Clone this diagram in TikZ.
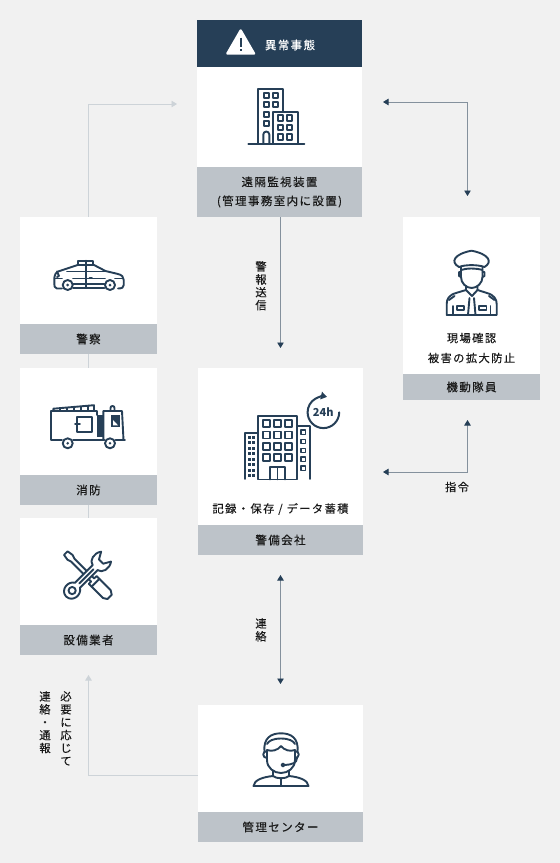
\documentclass[tikz,border=0pt]{standalone}
\usepackage{fontspec}
\usetikzlibrary{arrows.meta}
\newfontfamily\jpfont[LetterSpace=12,FakeBold=0.08]{Noto Sans CJK JP}
\newfontfamily\jpmid[LetterSpace=12,FakeBold=0.35]{Noto Sans CJK JP}
\newfontfamily\jpplain{Noto Sans CJK JP}
\definecolor{navy}{HTML}{263F57}
\definecolor{bandgray}{HTML}{BDC3C9}
\definecolor{pagegray}{HTML}{F1F1F1}
\definecolor{linegray}{HTML}{84919D}
\definecolor{palegray}{HTML}{CDD3D8}
\tikzset{
	bodybox/.style={fill=white,inner sep=0pt,minimum width=#1},
	bandbox/.style={fill=bandgray,inner sep=0pt,minimum width=#1,text=black!90,align=center,font=\jpmid\fontsize{11.5}{19}\selectfont},
	caption/.style={inner sep=0pt,align=center,text=black!90,font=\jpfont\fontsize{11.3}{20}\selectfont},
	vtext/.style={inner sep=0pt,anchor=north,align=center,text=black!90,font=\jpfont\fontsize{11.3}{12.9}\selectfont},
	icon/.style={draw=navy,line width=1.9pt,line join=round,line cap=round},
	darkline/.style={draw=linegray,line width=0.8pt},
	paleline/.style={draw=palegray,line width=0.8pt},
	darktip/.tip={Triangle[length=5.5pt,width=6.5pt,color=navy]},
	paletip/.tip={Triangle[length=5.5pt,width=6.5pt,color=palegray]}
}
\begin{document}
\begin{tikzpicture}[x=1pt,y=-1pt]
	\fill [pagegray] (0,0) rectangle (560,863);
	\useasboundingbox (0,0) rectangle (560,863);
	% boxes
	\node (alarm) at (279.5,43.5) [fill=navy,inner sep=0pt,minimum width=165pt,minimum height=47pt] {};
	\node (monitorbody) at (279.5,117) [bodybox=165pt,minimum height=100pt] {};
	\node (monitorband) at (279.5,192) [bandbox=165pt,minimum height=50pt] {遠隔監視装置\\(管理事務室内に設置)};
	\node (policebody) at (88.5,270.5) [bodybox=137pt,minimum height=107pt] {};
	\node (policeband) at (88.5,339) [bandbox=137pt,minimum height=30pt] {警察};
	\node (firebody) at (88.5,421.5) [bodybox=137pt,minimum height=107pt] {};
	\node (fireband) at (88.5,490) [bandbox=137pt,minimum height=30pt] {消防};
	\node (equipbody) at (88.5,571.5) [bodybox=137pt,minimum height=107pt] {};
	\node (equipband) at (88.5,640) [bandbox=137pt,minimum height=30pt] {設備業者};
	\node (centerbody) at (280.5,446.5) [bodybox=165pt,minimum height=157pt] {};
	\node (centerband) at (280.5,540) [bandbox=165pt,minimum height=30pt] {警備会社};
	\node (guardbody) at (471.5,295.5) [bodybox=137pt,minimum height=157pt] {};
	\node (guardband) at (471.5,387) [bandbox=137pt,minimum height=26pt] {機動隊員};
	\node (mgmtbody) at (280.5,758.5) [bodybox=165pt,minimum height=107pt] {};
	\node (mgmtband) at (280.5,827) [bandbox=165pt,minimum height=30pt] {管理センター};
	% free ends
	\coordinate (monitorL) at (177,104);
	\coordinate (monitorR) at (383,102);
	\coordinate (guardU) at (467.5,196);
	\coordinate (guardD) at (467.5,420);
	\coordinate (centerR) at (383,472);
	\coordinate (centerS) at (280.5,575);
	\coordinate (mgmtN) at (280.5,684);
	\coordinate (monitorS) at (280.5,217);
	\coordinate (centerN) at (280.5,348);
	\coordinate (mgmtL) at (198,775);
	\coordinate (equipD) at (88.5,675);
	% connectors
	\draw [paleline,-{paletip}] (policebody.north) |- (monitorL);
	\draw [paleline] (firebody.north) -- (policeband.south);
	\draw [paleline] (equipbody.north) -- (fireband.south);
	\draw [paleline,-{paletip}] (mgmtL) -| (equipD);
	\draw [darkline,{darktip}-{darktip}] (monitorR) -| (guardU);
	\draw [darkline,-{darktip}] (monitorS) -- (centerN);
	\draw [darkline,{darktip}-{darktip}] (centerR) -| (guardD);
	\draw [darkline,{darktip}-{darktip}] (centerS) -- (mgmtN);
	% labels
	\node (alarmtext) at (290,45) [inner sep=0pt,text=white,font=\jpmid\fontsize{11.5}{13}\selectfont] {異常事態};
	\node (recordtext) at (280.5,509) [caption] {記録・保存 / データ蓄積};
	\node (guardtext) at (471.5,348) [caption] {現場確認\\被害の拡大防止};
	\node (sendtext) at (261,261) [vtext] {警\\報\\送\\信};
	\node (contacttext) at (261,618) [vtext] {連\\絡};
	\node (ordertext) at (457,487) [caption] {指令};
	\node (needtext) at (66,691) [vtext] {必\\要\\に\\応\\じ\\て};
	\node (reporttext) at (45,691) [vtext] {連\\絡\\・\\通\\報};
	% warning sign
	\fill [white,draw=white,line width=2.4pt,line join=round] (240.7,30.5) -- (254,53.5) -- (227.4,53.5) -- cycle;
	\draw [navy,line width=2pt] (240.7,37.5) -- (240.7,47) (240.7,49.3) -- (240.7,51.3);
	% tower on the monitor box
	\begin{scope}[icon]
		\draw (258.3,143.5) |- (282.8,88.7) -- (282.8,111.7);
		\draw (272.7,143.5) |- (297.7,111.7) -- (297.7,143.5);
		\draw (248.3,143.7) -- (304.3,143.7);
		\foreach \wy in {92.7,102.2,111.7,121.2} \draw (263.7,\wy) rectangle ++(5,5);
		\foreach \wy in {92.7,102.2} \draw (272.7,\wy) rectangle ++(5,5);
		\foreach \wx in {277.7,286.7} \foreach \wy in {115.3,124.7,134.3} \draw (\wx,\wy) rectangle ++(5.5,5.3);
		\draw (263.3,143.5) -- (263.3,134.5) arc[start angle=180,end angle=0,radius=3pt] -- (269.3,143.5);
	\end{scope}
	% police car
	\begin{scope}[icon]
		\draw (62,288.5) -- (57,288.5) .. controls (54.5,288) and (54.3,286) .. (54.3,284) -- (54.3,278) .. controls (55,274) and (56,272.5) .. (58,271.5) -- (77.5,265) -- (94,265) -- (105.5,271) -- (118,274) .. controls (122,275) and (123.7,277) .. (123.7,280) -- (123.7,285) .. controls (123.7,287.5) and (122,288.5) .. (118,288.5);
		\draw (73,288) -- (104.5,288) (73,284) -- (104.5,284);
		\draw (78,265) -- (78,260.7) -- (93,260.7) -- (93,265);
		\draw (86,260.7) -- (86,288);
		\draw (57,271.5) -- (59,276) -- (57,277);
		\draw (55,278.5) -- (62,278.5) (73,278.5) -- (105,278.5) (115,278.5) -- (123,278.5);
		\draw (67,271.5) -- (105,271.5);
		\draw (89.5,277.8) -- (92,277.8);
		\draw [fill=white] (67.7,285) circle (5pt) (110,285) circle (5pt);
		\fill [navy] (67.7,285) circle (1.5pt) (110,285) circle (1.5pt);
	\end{scope}
	% fire engine
	\begin{scope}[icon]
		\draw (62,440) -- (50.7,440) -- (50.7,411) -- (97.3,411) -- (97.3,415);
		\draw (53.3,410.5) -- (53.3,408.7) -- (94,405.2) -- (94,410.5);
		\foreach \lx/\ly in {60/408.5,67/408,74/407,81/406.5,88/406} \draw [line width=1.2pt] (\lx,\ly) -- (\lx,410.5);
		\draw (76.7,416.7) rectangle (91.7,432.3);
		\draw (75,424) -- (80,424);
		\fill [navy] (97.3,415) rectangle (103.3,436.7);
		\draw (103.3,440) -- (103.3,411) -- (122,411) -- (123.5,440);
		\draw (73,440) -- (104.5,440);
		\draw (115.5,440) -- (125,440);
		\fill [navy] (110.7,415) rectangle (120,427.3);
		\fill [white] (113,420) -- (118,425.3) -- (113,425.3) -- cycle;
		\draw (110.5,411) -- (110.5,408) arc[start angle=180,end angle=0,radius=2pt] -- (114.5,411);
		\draw [fill=white] (67.7,443.3) circle (5pt) (110,443.3) circle (5pt);
		\fill [navy] (67.7,443.3) circle (1.4pt) (110,443.3) circle (1.4pt);
	\end{scope}
	% screwdriver and wrench
	\begin{scope}[icon,shift={(87.7,575)},rotate=-45]
		\draw [fill=white] (-31,-2.5) -- (-25,-3.5) -- (-21,-2.2) -- (7,-2.2) -- (7,-5.5) -- (27,-5.5) -- (31,-3) -- (31,3) -- (27,5.5) -- (7,5.5) -- (7,2.2) -- (-21,2.2) -- (-25,3.5) -- (-31,2.5) -- cycle;
		\draw (11,-5.5) -- (11,5.5);
	\end{scope}
	\begin{scope}[icon,shift={(87.7,575)},rotate=45]
		\draw [fill=white] (-14.5,-3.5) -- (10.5,-3.5) .. controls (11,-9) and (20,-11.5) .. (26,-7) -- (19,-3) -- (19,3) -- (26,7) .. controls (20,11.5) and (11,9) .. (10.5,3.5) -- (-14.5,3.5) .. controls (-18,10) and (-30,9) .. (-30.5,0) .. controls (-30,-9) and (-18,-10) .. (-14.5,-3.5) -- cycle;
		\draw (-22,0) circle (3.6pt);
		\draw (-12,0) -- (8,0);
	\end{scope}
	% office with clock
	\begin{scope}[icon]
		\draw (258.3,479.5) |- (297.3,415.7) -- (297.3,479.5) -- cycle;
		\draw (245,479) |- (258,432.7);
		\draw (297.3,425.7) -| (310,479);
		\foreach \wx in {263.3,274,285} \foreach \wy in {420.3,431.5,442.7,454} \draw (\wx,\wy) rectangle ++(7,7);
		\foreach \wy in {432.3,441.5,450.5,459.3,468.3} \draw [line width=1.5pt] (301.2,\wy-2.2) rectangle ++(4.4,4.4);
		\foreach \dx in {249,253.5} \foreach \dy in {437,442.5,448,453.5,459,464.5,470,475} \fill [navy] (\dx-1.5,\dy-1.5) rectangle ++(3,3);
		\draw (270,479.5) -- (270,467.3) -- (285,467.3) -- (285,479.5) (277.5,467.3) -- (277.5,479.5);
		\draw [line width=2pt,-{Triangle[length=6pt,width=7.5pt]}] (339.2,412.3) arc[start angle=0,end angle=-283,radius=15.8pt];
	\end{scope}
	\node (clocktext) at (323.3,412.5) [inner sep=0pt,text=navy,font=\jpplain\bfseries\fontsize{11}{13}\selectfont] {24h};
	% guard
	\begin{scope}[icon]
		\draw (459,267) .. controls (450,262) and (454,254) .. (471.5,250.7) .. controls (489,254) and (493,262) .. (484.5,267) .. controls (478,264.5) and (465,264.5) .. (459,267) -- cycle;
		\draw (461,270) .. controls (467,268) and (476,268) .. (482.5,270);
		\draw (461,267) -- (461,277) .. controls (461,283) and (466,288) .. (471.7,288) .. controls (477,288) and (482.5,283) .. (482.5,277) -- (482.5,267);
		\draw (461,272) -- (459,272) -- (459,276) -- (461,277) (482.5,272) -- (484.5,272) -- (484.5,276) -- (482.5,277);
		\draw (466,286) -- (466,290) -- (472,296) -- (477.5,290) -- (477.5,286);
		\draw (466,290) -- (456,293) .. controls (449,295) and (446.7,299) .. (446.7,304) -- (446.7,315) -- (496.7,315) -- (496.7,304) .. controls (496.7,299) and (494,295) .. (487,293) -- (477.5,290);
		\draw (469.5,298) -- (468,315) (474,298) -- (475.5,315);
		\draw (457,306) rectangle (464,310) (479,306) rectangle (486.5,310);
		\draw (453,306) -- (453,315) (490.5,306) -- (490.5,315);
		\draw (449,300) -- (454.5,296) (494.5,300) -- (489,296);
	\end{scope}
	% operator with headset
	\begin{scope}[icon]
		\draw (264.5,752) .. controls (263,738) and (271,733.3) .. (281,733.3) .. controls (291,733.3) and (299,738) .. (297.5,752);
		\draw (267,750) .. controls (272,752) and (278,750) .. (281,746) .. controls (284,750) and (290,752) .. (295,750);
		\draw (267,750) -- (267,760) .. controls (267,768) and (274,773) .. (281,773) .. controls (288,773) and (295,768) .. (295,760) -- (295,750);
		\draw (267,744) .. controls (268.5,741) and (273,738.5) .. (281,738.5) .. controls (289,738.5) and (293.5,741) .. (295,744);
		\draw (267,751) .. controls (262,751) and (262,758) .. (267,758);
		\draw (295,751) .. controls (300,751) and (300,758) .. (295,758);
		\draw (297,758) .. controls (297,763) and (292,764.5) .. (285,765);
		\draw (283,765) circle (1.5pt);
		\draw (273,771) -- (273,776) .. controls (263,777) and (254,780) .. (253.5,786) -- (308.5,786) .. controls (308,780) and (299,777) .. (289,776) -- (289,771);
		\draw (273,776) .. controls (276,779) and (286,779) .. (289,776);
		\draw (281,778) -- (281,786);
	\end{scope}
\end{tikzpicture}
\end{document}
